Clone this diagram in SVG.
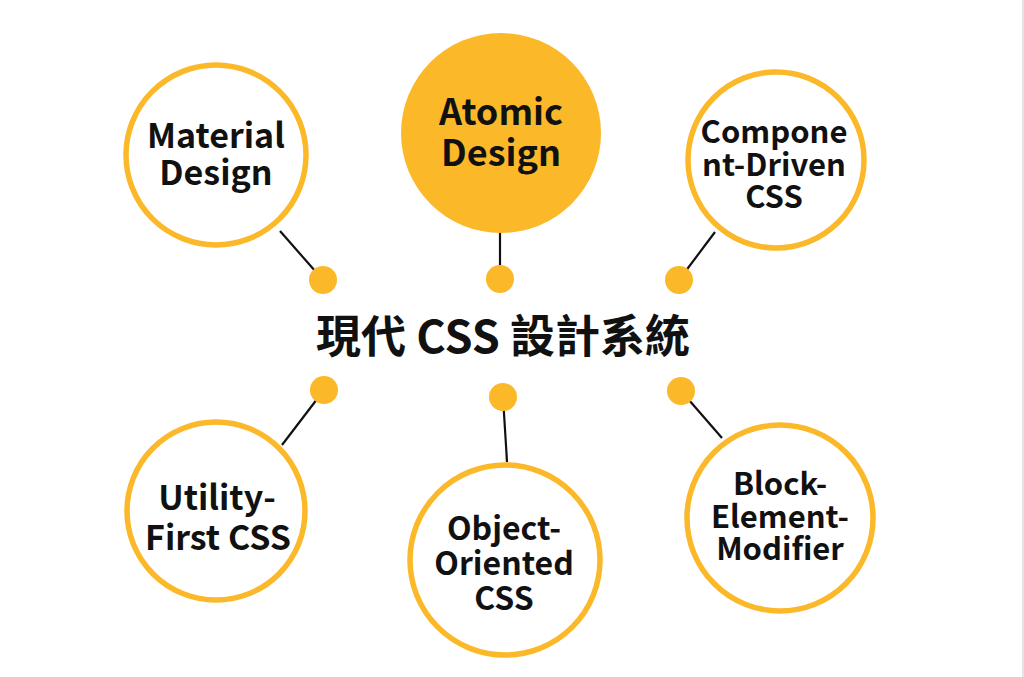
<svg xmlns="http://www.w3.org/2000/svg" width="1024" height="677" viewBox="0 0 1024 677">
<style>
.ring{fill:#ffffff;stroke:#FBB829;stroke-width:5.5}
.fill{fill:#FBB829}
.dot{fill:#FBB829}
.con line{stroke:#111;stroke-width:2.2}
.lbl{font-family:"Noto Sans CJK TC","Noto Sans",sans-serif;font-weight:700;fill:#111;text-anchor:middle}
.title{font-family:"Noto Sans CJK TC","Noto Sans CJK SC",sans-serif;font-weight:700;fill:#111;text-anchor:middle;font-size:45px}
</style>
<rect width="1024" height="677" fill="#ffffff"/>
<rect x="1022" y="0" width="2" height="677" fill="#e2e3e8"/>
<g class="con" id="connectors">
<line x1="280" y1="231" x2="323" y2="280"/>
<line x1="500" y1="232" x2="500" y2="279"/>
<line x1="715" y1="232" x2="679" y2="280"/>
<line x1="324" y1="390" x2="282" y2="445"/>
<line x1="503" y1="397" x2="507" y2="462"/>
<line x1="682" y1="392" x2="722" y2="438"/>
<circle class="dot" cx="323" cy="280" r="14"/>
<circle class="dot" cx="500" cy="279" r="14"/>
<circle class="dot" cx="679" cy="280" r="14"/>
<circle class="dot" cx="324" cy="390" r="14"/>
<circle class="dot" cx="503" cy="397" r="14"/>
<circle class="dot" cx="681" cy="391" r="14"/>
</g>
<g id="center">
<text class="title" x="503" y="353">現代 CSS 設計系統</text>
</g>
<g id="material">
<circle class="ring" cx="216" cy="155" r="90"/>
<text class="lbl" font-size="34" x="216" y="148">Material</text>
<text class="lbl" font-size="34" x="216" y="185">Design</text>
</g>
<g id="atomic">
<circle class="fill" cx="501" cy="133" r="100"/>
<text class="lbl" font-size="36" x="501" y="125">Atomic</text>
<text class="lbl" font-size="36" x="501" y="166">Design</text>
</g>
<g id="component">
<circle class="ring" cx="776" cy="160" r="88"/>
<text class="lbl" font-size="31" x="774" y="143">Compone</text>
<text class="lbl" font-size="31" x="774" y="176">nt-Driven</text>
<text class="lbl" font-size="31" x="774" y="208">CSS</text>
</g>
<g id="utility">
<circle class="ring" cx="216" cy="511" r="89"/>
<text class="lbl" font-size="34" x="217" y="510">Utility-</text>
<text class="lbl" font-size="34" x="218" y="550">First CSS</text>
</g>
<g id="oocss">
<circle class="ring" cx="505" cy="560" r="95"/>
<text class="lbl" font-size="32" x="504" y="540">Object-</text>
<text class="lbl" font-size="32" x="504" y="575">Oriented</text>
<text class="lbl" font-size="32" x="504" y="610">CSS</text>
</g>
<g id="bem">
<circle class="ring" cx="780" cy="518" r="93"/>
<text class="lbl" font-size="31" x="780" y="495">Block-</text>
<text class="lbl" font-size="31" x="780" y="528">Element-</text>
<text class="lbl" font-size="31" x="780" y="560">Modifier</text>
</g>
</svg>
